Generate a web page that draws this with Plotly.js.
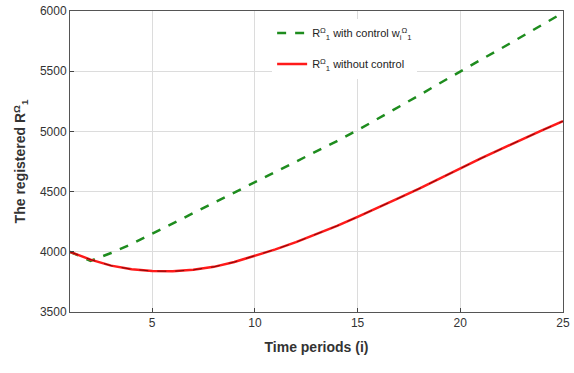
<!DOCTYPE html>
<html>
<head>
<meta charset="utf-8">
<script src="https://cdn.plot.ly/plotly-3.0.1.min.js"></script>
<style>html,body{margin:0;padding:0;background:#fff;}#chart{width:574px;height:373px;}</style>
</head>
<body>
<div id="chart"></div>
<script>
const periods = [1,2,3,4,5,6,7,8,9,10,11,12,13,14,15,16,17,18,19,20,21,22,23,24,25];
const withControl = [4000,3925,3990,4065,4150,4235,4320,4405,4490,4578,4665,4750,4835,4920,5010,5105,5200,5300,5400,5500,5595,5690,5790,5885,5985];
const withoutControl = [4000,3935,3885,3855,3840,3838,3850,3875,3915,3965,4020,4080,4145,4215,4290,4365,4445,4525,4610,4695,4775,4855,4935,5010,5085];
const xTicks = [5,10,15,20,25];
const yTicks = [3500,4000,4500,5000,5500,6000];

const traces = [
  {x: periods, y: withControl, type: 'scatter', mode: 'lines', legendgroup: 'a',
   name: 'R<sup>Ω</sup><sub>1</sub> with control w<sub>i</sub><sup>Ω</sup><sub>1</sub>',
   line: {color: '#1e8c1e', width: 2.5, dash: 'dash'}},
  {x: periods, y: withoutControl, type: 'scatter', mode: 'lines', legendgroup: 'b',
   name: 'R<sup>Ω</sup><sub>1</sub> without control',
   line: {color: '#ff1a1a', width: 2.5}},
  {x: periods, y: withoutControl, type: 'scatter', mode: 'lines', showlegend: false, legendgroup: 'b',
   hoverinfo: 'skip', line: {color: 'rgba(40,0,0,0.6)', width: 1, dash: 'dash'}}
];

const layout = {
  width: 574, height: 373,
  margin: {l: 70, r: 11, t: 11, b: 61},
  paper_bgcolor: '#fff', plot_bgcolor: '#fff',
  font: {family: 'Liberation Sans, Arial, sans-serif', color: '#333'},
  xaxis: {range: [1,25], tickvals: xTicks, ticks: 'inside', ticklen: 4, tickcolor: '#444',
    showgrid: true, gridcolor: '#dcdcdc', zeroline: false, showline: true, mirror: true,
    linecolor: '#555', linewidth: 1, tickfont: {size: 12, color: '#333'},
    title: {text: '<b>Time periods (i)</b>', font: {size: 14, color: '#333'}, standoff: 12}},
  yaxis: {range: [3500,6000], tickvals: yTicks, ticks: 'inside', ticklen: 4, tickcolor: '#444',
    showgrid: true, gridcolor: '#dcdcdc', zeroline: false, showline: true, mirror: true,
    linecolor: '#555', linewidth: 1, tickfont: {size: 12, color: '#333'},
    title: {text: '<b>The registered R<sup>Ω</sup><sub>1</sub></b>', font: {size: 14, color: '#333'}, standoff: 10}},
  legend: {x: 0.41, y: 0.975, xanchor: 'left', yanchor: 'top', bgcolor: 'rgba(255,255,255,1)',
    font: {size: 11, color: '#222'}, tracegroupgap: 12},
  showlegend: true
};

Plotly.newPlot('chart', traces, layout, {displayModeBar: false, staticPlot: true});
</script>
</body>
</html>
